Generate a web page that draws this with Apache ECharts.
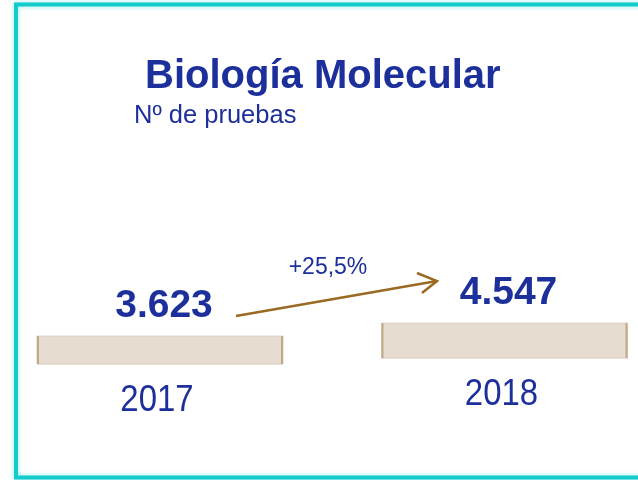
<!DOCTYPE html>
<html>
<head>
<meta charset="utf-8">
<script src="https://cdn.jsdelivr.net/npm/echarts@6/dist/echarts.min.js"></script>
<style>
  html, body { margin: 0; padding: 0; background: #fff; }
  #chart_container { width: 638px; height: 480px; }
</style>
</head>
<body>
<div id="chart_container"></div>
<script>
"use strict";

// data
const years = ['2017', '2018'];
const pruebas = [3623, 4547];

// look
const BLUE = '#1d2f9a';
const SLAB_W = 246;
const SLAB_H = [28, 35];
const SANS = "'Liberation Sans', Arial, sans-serif";

let fmtNum = v => String(v).replace(/\B(?=(\d{3})+(?!\d))/g, '.');
let pct = ((pruebas[1] / pruebas[0] - 1) * 100).toFixed(1).replace('.', ',');

let renderSlab = (params, api) => {
    let i = api.value(0);
    let top = api.coord([i, api.value(1)]);
    let h = SLAB_H[params.dataIndex];
    let x0 = top[0] - SLAB_W / 2;
    let y0 = top[1];
    return {
        type: 'group',
        children: [
            {
                type: 'rect',
                shape: { x: x0, y: y0, width: SLAB_W, height: h },
                style: { fill: '#e6ddd0', stroke: '#ddd0bf', lineWidth: 1 }
            },
            {
                type: 'rect',
                shape: { x: x0, y: y0, width: 2, height: h },
                style: { fill: '#c2a98b' }
            },
            {
                type: 'rect',
                shape: { x: x0 + SLAB_W - 2, y: y0, width: 2, height: h },
                style: { fill: '#c2a98b' }
            },
            {
                type: 'text',
                style: {
                    text: fmtNum(api.value(1)),
                    x: top[0] + 4, y: y0 - 30,
                    align: 'center', verticalAlign: 'middle',
                    fill: BLUE, fontFamily: SANS, fontWeight: 'bold', fontSize: 39
                }
            },
            {
                type: 'text',
                x: top[0] - 3, y: y0 + h + 37,
                scaleX: 0.89,
                style: {
                    text: years[params.dataIndex],
                    x: 0, y: 0,
                    align: 'center', verticalAlign: 'middle',
                    fill: BLUE, fontFamily: SANS, fontSize: 37
                }
            }
        ]
    };
};

let option = {
    backgroundColor: '#ffffff',
    animation: false,
    grid: { left: 0, right: 0, top: 106, bottom: 93 },
    xAxis: { type: 'value', min: -0.4644, max: 1.3875, show: false },
    yAxis: { type: 'value', min: 0, max: 20000, show: false },
    graphic: [
        {
            type: 'rect',
            shape: { x: 16, y: 4.5, width: 700, height: 473 },
            style: {
                fill: null, stroke: '#12cccc', lineWidth: 4,
                shadowBlur: 5, shadowColor: 'rgba(18,204,204,0.45)'
            },
            silent: true
        },
        {
            type: 'text',
            style: {
                text: 'Biología Molecular',
                x: 145, y: 77, align: 'left', verticalAlign: 'middle',
                fill: BLUE, fontFamily: SANS, fontWeight: 'bold', fontSize: 40
            }
        },
        {
            type: 'text',
            style: {
                text: 'Nº de pruebas',
                x: 134, y: 116, align: 'left', verticalAlign: 'middle',
                fill: BLUE, fontFamily: SANS, fontSize: 25.5
            }
        },
        {
            type: 'polyline',
            shape: { points: [[236, 316], [437, 281]] },
            style: { stroke: '#9a6a22', lineWidth: 2.5, fill: null }
        },
        {
            type: 'polyline',
            shape: { points: [[417, 273], [437, 281], [422, 293]] },
            style: { stroke: '#9a6a22', lineWidth: 2.5, fill: null, lineJoin: 'miter' }
        },
        {
            type: 'text',
            style: {
                text: '+' + pct + '%',
                x: 328, y: 268, align: 'center', verticalAlign: 'middle',
                fill: BLUE, fontFamily: SANS, fontSize: 23
            }
        }
    ],
    series: [
        {
            type: 'custom',
            renderItem: renderSlab,
            data: pruebas.map((v, i) => [i, v])
        }
    ]
};

let myChart = echarts.init(document.getElementById('chart_container'));
myChart.setOption(option);
</script>
</body>
</html>
